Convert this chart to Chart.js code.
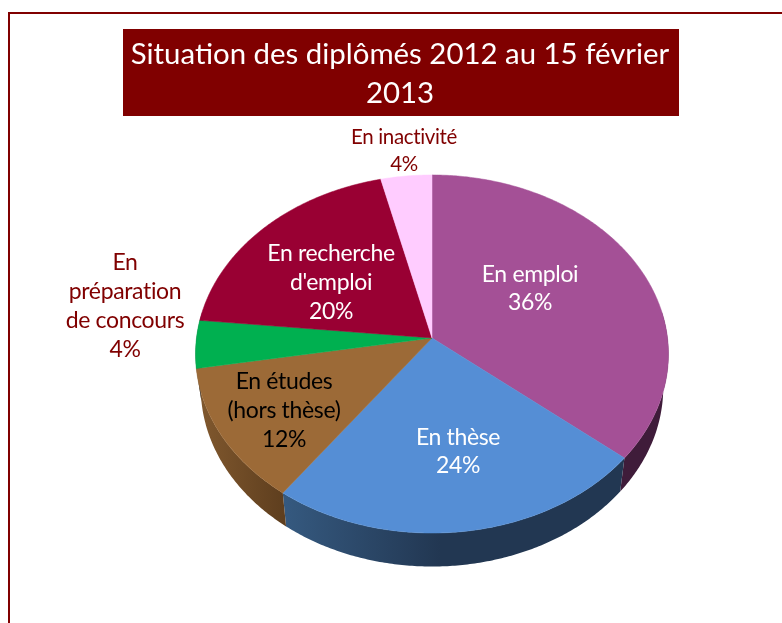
<!DOCTYPE html>
<html><head><meta charset="utf-8">
<style>html,body{margin:0;padding:0;background:#fff;overflow:hidden;width:782px;height:623px}
#w{position:absolute;left:0;top:0;width:800px;height:623px}</style>
<script src="https://cdn.jsdelivr.net/npm/chart.js@4"></script>
</head><body><div id="w"><canvas id="c" width="800" height="623"></canvas></div>
<script>
const categories=["En emploi","En thèse","En études (hors thèse)","En préparation de concours","En recherche d'emploi","En inactivité"];
const shares=[36,24,12.3,4.3,19.6,3.8];
const topColors=["#A45096","#558ED5","#9C6A37","#00B050","#990033","#FFCCFF"];
const titleLines=["Situation des diplômés 2012 au 15 février","2013"];
const DARK="#800000";
const FONT="Lato, Carlito, sans-serif";
// perspective geometry of the tilted pie
const geo={cx:432,cy:338,R:235.5,k:-0.0894,a:177.6,depth:33.5,taper:0.978};
function project(angle){
  const x=Math.cos(angle),y=Math.sin(angle),d=1+geo.k*y;
  return [geo.cx+geo.R*x/d,geo.cy+geo.a*y/d];
}
function sidePaint(ctx,i){
  if(i===1){const g=ctx.createLinearGradient(285,0,440,0);g.addColorStop(0,"#35597F");g.addColorStop(1,"#223752");return g;}
  if(i===2){const g=ctx.createLinearGradient(200,0,285,0);g.addColorStop(0,"#80582E");g.addColorStop(1,"#5E3E1E");return g;}
  if(i===0)return "#3F1C3A";
  return "#444";
}
function arcPts(s,e){const n=Math.max(6,Math.ceil((e-s)/0.01)),p=[];for(let j=0;j<=n;j++)p.push(project(s+(e-s)*j/n));return p;}
const pie3d={id:"pie3d",
  beforeDraw(ch){const c=ch.ctx;c.save();
    c.fillStyle="#fff";c.fillRect(0,0,ch.width,ch.height);
    c.fillStyle=DARK;c.fillRect(8,12,ch.width,2);c.fillRect(8,12,2,ch.height);
    c.fillRect(123,29,556,87);c.restore();},
  beforeDatasetDraw(){return false;},
  afterDatasetsDraw(ch){
    const c=ch.ctx,els=ch.getDatasetMeta(0).data;c.save();
    els.forEach((el,i)=>{ // side wall
      const s=Math.max(el.startAngle,-0.15),e=Math.min(el.endAngle,Math.PI+0.15);
      if(e<=s)return;
      const p=arcPts(s,e);
      c.beginPath();p.forEach((q,j)=>j?c.lineTo(q[0],q[1]):c.moveTo(q[0],q[1]));
      for(let j=p.length-1;j>=0;j--){c.lineTo(geo.cx+(p[j][0]-geo.cx)*geo.taper,p[j][1]+geo.depth);}
      c.closePath();c.fillStyle=sidePaint(c,i);c.fill();
    });
    els.forEach((el,i)=>{ // top face
      const p=arcPts(el.startAngle,el.endAngle);
      c.beginPath();c.moveTo(geo.cx,geo.cy);p.forEach(q=>c.lineTo(q[0],q[1]));c.closePath();
      c.fillStyle=topColors[i];c.fill();c.strokeStyle=topColors[i];c.lineWidth=0.5;c.stroke();
    });
    c.restore();
  },
  afterDraw(ch){
    const c=ch.ctx;c.save();c.textAlign="center";c.textBaseline="middle";
    if("letterSpacing" in c)c.letterSpacing="-0.35px";
    const put=(size,lines,x,ys,col)=>{c.font=size+"px "+FONT;c.fillStyle=col;lines.forEach((t,i)=>c.fillText(t,x,ys[i]));};
    const pct=shares.map(v=>Math.round(v)+"%");
    put(23,["En emploi",pct[0]],530,[275,303],"#fff");
    put(23,["En thèse",pct[1]],458,[438,466],"#fff");
    put(23,["En études","(hors thèse)",pct[2]],284,[382,411,440],"#000");
    put(23,["En","préparation","de concours",pct[3]],125,[263,292,321,350],DARK);
    put(23,["En recherche","d'emploi",pct[4]],331,[254,283,312],"#fff");
    put(20.5,["En inactivité",pct[5]],404,[137,164],DARK);
    c.restore();
  }
};
new Chart(document.getElementById("c"),{
  type:"pie",
  data:{labels:categories,datasets:[{data:shares,backgroundColor:topColors,borderWidth:0}]},
  options:{responsive:false,animation:false,
    layout:{padding:{left:100,right:100,bottom:50}},
    plugins:{legend:{display:false},tooltip:{enabled:false},
      title:{display:true,text:titleLines,color:"#fff",
        font:{family:FONT,size:29.4,weight:"normal",lineHeight:1.33},padding:{top:35,bottom:0}}}
  },
  plugins:[pie3d]
});
</script></body></html>
